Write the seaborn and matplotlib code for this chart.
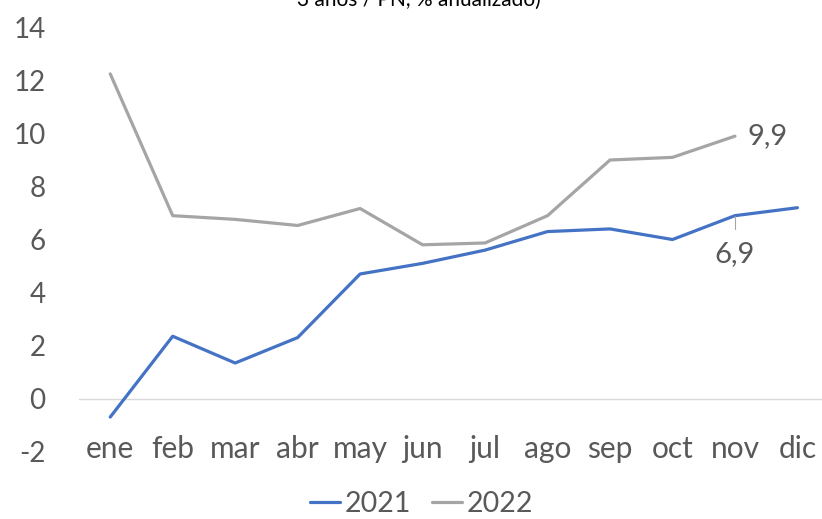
import numpy as np
import pandas as pd
import seaborn as sns
import matplotlib.pyplot as plt
from matplotlib.lines import Line2D

meses = ["ene", "feb", "mar", "abr", "may", "jun", "jul", "ago", "sep", "oct", "nov", "dic"]
v2021 = [-0.7, 2.35, 1.34, 2.3, 4.7, 5.1, 5.6, 6.3, 6.4, 6.0, 6.9, 7.2]
v2022 = [12.25, 6.9, 6.76, 6.53, 7.17, 5.8, 5.87, 6.9, 9.0, 9.1, 9.9, np.nan]
yticks = [-2, 0, 2, 4, 6, 8, 10, 12, 14]

sns.set_style("white")
plt.rcParams['font.family'] = ['Lato', 'DejaVu Sans']
txt = '#595959'

df = pd.DataFrame({"mes": list(range(12)) * 2,
                   "valor": v2021 + v2022,
                   "serie": ["2021"] * 12 + ["2022"] * 12})

fig = plt.figure(figsize=(8.22, 5.19), dpi=100)
ax = fig.add_axes([0.0961, 0.130, 0.912, 0.817])
ax.axhline(0, color='#D9D9D9', lw=1, zorder=0)
sns.lineplot(data=df, x="mes", y="valor", hue="serie",
             palette={"2021": "#4472C4", "2022": "#A5A5A5"},
             linewidth=2.3, ax=ax, legend=False)

ax.set_xlim(-0.5, 11.5)
ax.set_ylim(-2, 14)
ax.set_yticks(yticks)
ax.set_yticklabels([str(t) for t in yticks], fontsize=20, color=txt)
ax.set_xticks(range(12))
ax.set_xticklabels(meses, fontsize=21.5, color=txt)
for lab in ax.get_xticklabels():
    lab.set_va('center')
ax.tick_params(axis='x', length=0, pad=-2)
ax.tick_params(axis='y', length=0, pad=24)
ax.set_xlabel("")
ax.set_ylabel("")
sns.despine(ax=ax, left=True, bottom=True)

# etiquetas de datos
ax.text(10.2, 9.9, "9,9", fontsize=21, color=txt, va='center', ha='left')
ax.plot([10, 10], [6.9, 6.4], color='#A5A5A5', lw=0.8)
ax.text(10, 5.45, "6,9", fontsize=21, color=txt, ha='center', va='center')

fig.text(0.51, 1 - 6 / 519, "3 años / PN, % anualizado)", fontsize=15,
         color='#000000', ha='center', va='baseline')

handles = [Line2D([], [], color="#4472C4", lw=2.3), Line2D([], [], color="#A5A5A5", lw=2.3)]
fig.legend(handles, ["2021", "2022"], loc='center', bbox_to_anchor=(0.513, 1 - 504 / 519),
           ncol=2, frameon=False, fontsize=20.5, labelcolor=txt, handlelength=1.05,
           handletextpad=0.15, columnspacing=0.75, borderpad=0.2)

fig.savefig("out.png", dpi=100)
